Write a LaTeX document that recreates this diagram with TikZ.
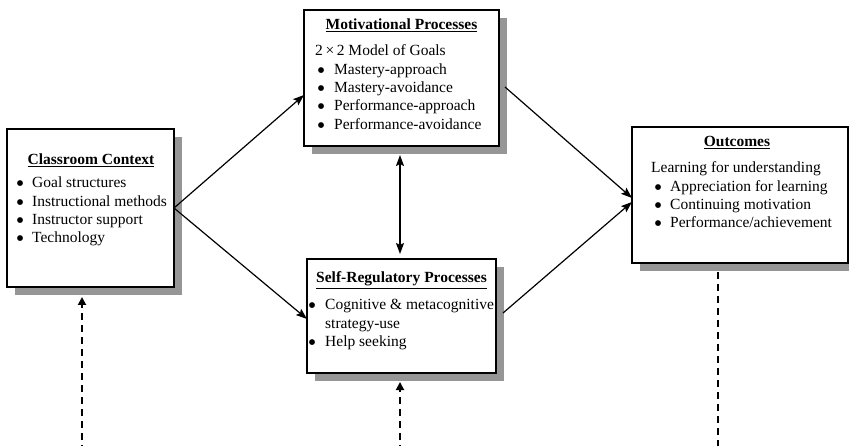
\documentclass[tikz,border=0pt]{standalone}
\usepackage{fontspec}
\setmainfont{Liberation Serif}
\newfontfamily\shapesfont{DejaVu Sans}
\usetikzlibrary{arrows.meta,shadows,calc}
\definecolor{shadowgray}{RGB}{150,150,150}
% list bullet: a solid disc, centred in a 6pt wide slot
\newcommand{\itembullet}{\makebox[6pt]{\raisebox{2pt}{\fontsize{7.5}{8}\shapesfont ●}}}
\begin{document}
\begin{tikzpicture}[x=1pt,y=-1pt,
  every node/.style={font=\fontsize{15.5}{18.3}\selectfont},
  box/.style={draw=black, line width=1.8pt, fill=white, anchor=north west,
    inner sep=0pt, outer sep=0pt,
    drop shadow={shadow xshift=8pt, shadow yshift=-8pt, fill=shadowgray, opacity=1}},
  heading/.style={anchor=base, inner sep=0pt, font=\fontsize{15.5}{18.3}\selectfont\bfseries},
  items/.style={anchor=base west, inner sep=0pt},
  link/.style={line width=1.2pt, -{Stealth[length=11pt,width=8pt,inset=2pt]}},
  mutual/.style={line width=1.5pt,
    {Stealth[length=11pt,width=8pt,inset=2pt]}-{Stealth[length=11pt,width=8pt,inset=2pt]}},
  feedback/.style={line width=1.8pt, dash pattern=on 7pt off 5pt}]
\useasboundingbox (0,0) rectangle (849,446);

% boxes
\node[box, minimum width=167pt, minimum height=158pt] (cc) at (7,129) {};
\node[box, minimum width=195pt, minimum height=136pt] (mp) at (304,10) {};
\node[box, minimum width=189pt, minimum height=114pt] (sr) at (307,259) {};
\node[box, minimum width=216pt, minimum height=136pt] (oc) at (632,127) {};

% classroom context
\node[heading] (cc-title) at (91,165) {\underline{Classroom Context}};
\node[items] (cc-list) at (17,188) {\begin{tabular}[t]{@{}l@{\hspace{9pt}}l@{}}
\itembullet & Goal structures\\
\itembullet & Instructional methods\\
\itembullet & Instructor support\\
\itembullet & Technology
\end{tabular}};

% motivational processes
\node[heading] (mp-title) at (401.5,30) {\underline{Motivational Processes}};
\node[items] (mp-list) at (315,56) {\begin{tabular}[t]{@{\hspace{3pt}}l@{\hspace{10pt}}l@{}}
\multicolumn{2}{@{}l@{}}{2\,×\,2 Model of Goals}\\
\itembullet & Mastery-approach\\
\itembullet & Mastery-avoidance\\
\itembullet & Performance-approach\\
\itembullet & Performance-avoidance
\end{tabular}};

% self-regulatory processes
\node[heading] (sr-title) at (401.5,283) {\underline{Self-Regulatory Processes}};
\node[items] (sr-list) at (309,310) {\begin{tabular}[t]{@{}l@{\hspace{10pt}}l@{}}
\itembullet & Cognitive \& metacognitive\\
 & strategy-use\\
\itembullet & Help seeking
\end{tabular}};

% outcomes
\node[heading] (oc-title) at (737,147) {\underline{Outcomes}};
\node[items] (oc-list) at (651,173) {\begin{tabular}[t]{@{\hspace{4pt}}l@{\hspace{9pt}}l@{}}
\multicolumn{2}{@{}l@{}}{Learning for understanding}\\
\itembullet & Appreciation for learning\\
\itembullet & Continuing motivation\\
\itembullet & Performance/achievement
\end{tabular}};

% paths between the processes
\draw[link] (cc.east) -- ([yshift=-17pt]mp.west);
\draw[link] (cc.east) -- ([yshift=-3pt]sr.west);
\draw[link] ([shift={(6pt,-9pt)}]mp.east) -- ([yshift=-3pt]oc.west);
\draw[link] ([shift={(7pt,3pt)}]sr.east) -- ([yshift=-7pt]oc.west);
\draw[mutual] ([shift={(-1.5pt,-9pt)}]mp.south) -- ([shift={(-1.5pt,5pt)}]sr.north);

% dashed feedback lines running off the bottom
\coordinate (cc-src) at (82,452);
\coordinate (sr-src) at (400,452);
\coordinate (oc-dst) at (718,452);
\draw[feedback, -{Triangle[length=8pt,width=8pt]}] (cc-src) -- ($(cc-src |- cc.south)+(0,10)$);
\draw[feedback, -{Triangle[length=8pt,width=8pt]}] (sr-src) -- ($(sr-src |- sr.south)+(0,9)$);
\draw[feedback] ($(oc-dst |- oc.south)+(0,9)$) -- (oc-dst);
\end{tikzpicture}
\end{document}
